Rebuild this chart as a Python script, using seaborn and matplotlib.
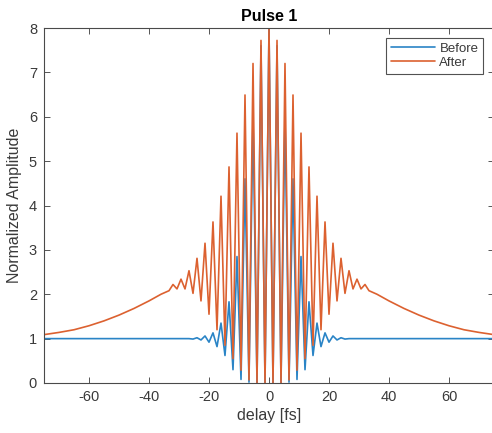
import numpy as np
import pandas as pd
import matplotlib
matplotlib.use("Agg")
import matplotlib.pyplot as plt
import seaborn as sns

# ---------------- data ----------------
# "After" trace: smooth pedestal wings
after_left_delay = [-75, -70, -65, -60, -55, -50, -45, -40, -36]
after_left_value = [1.09, 1.14, 1.20, 1.29, 1.40, 1.53, 1.68, 1.85, 2.00]
after_right_delay = [36, 40, 45, 50, 55, 60, 65, 70, 75]
after_right_value = [2.00, 1.85, 1.68, 1.53, 1.40, 1.29, 1.20, 1.14, 1.09]

# "After" trace: fringe extremes (alternating troughs / peaks)
after_fringe_delay = [-33.33, -32.00, -30.67, -29.33, -28.00, -26.67, -25.33, -24.00,
                      -22.67, -21.33, -20.00, -18.67, -17.33, -16.00, -14.67, -13.33,
                      -12.00, -10.67, -9.33, -8.00, -6.67, -5.33, -4.00, -2.67, -1.33,
                      0.00,
                      1.33, 2.67, 4.00, 5.33, 6.67, 8.00, 9.33, 10.67, 12.00,
                      13.33, 14.67, 16.00, 17.33, 18.67, 20.00, 21.33, 22.67,
                      24.00, 25.33, 26.67, 28.00, 29.33, 30.67, 32.00, 33.33]
after_fringe_value = [2.08, 2.22, 2.12, 2.34, 2.12, 2.53, 2.02, 2.81,
                      1.85, 3.15, 1.55, 3.63, 1.20, 4.21, 0.85, 4.87,
                      0.55, 5.63, 0.29, 6.49, 0.07, 7.20, 0.00, 7.72, 0.00,
                      8.00,
                      0.00, 7.72, 0.00, 7.20, 0.07, 6.49, 0.29, 5.63, 0.55,
                      4.87, 0.85, 4.21, 1.20, 3.63, 1.55, 3.15, 1.85,
                      2.81, 2.02, 2.53, 2.12, 2.34, 2.12, 2.22, 2.08]

# "Before" trace: flat background
before_left_delay = [-75, -26.67]
before_left_value = [1.0, 1.0]
before_right_delay = [26.67, 75]
before_right_value = [1.0, 1.0]

# "Before" trace: fringe extremes
before_fringe_delay = [-25.33, -24.00, -22.67, -21.33, -20.00, -18.67, -17.33, -16.00,
                       -14.67, -13.33, -12.00, -10.67, -9.33, -8.00, -6.67, -5.33,
                       -4.00, -2.67, -1.33,
                       0.00,
                       1.33, 2.67, 4.00, 5.33, 6.67, 8.00, 9.33, 10.67, 12.00,
                       13.33, 14.67, 16.00, 17.33, 18.67, 20.00, 21.33, 22.67,
                       24.00, 25.33]
before_fringe_value = [0.99, 1.02, 0.97, 1.06, 0.92, 1.13, 0.82, 1.35,
                       0.62, 1.83, 0.30, 2.85, 0.08, 4.60, 0.02, 6.00,
                       0.00, 7.60, 0.00,
                       8.00,
                       0.00, 7.60, 0.00, 6.00, 0.02, 4.60, 0.08, 2.85, 0.30,
                       1.83, 0.62, 1.35, 0.82, 1.13, 0.92, 1.06, 0.97,
                       1.02, 0.99]

x_ticks = [-60, -40, -20, 0, 20, 40, 60]
y_ticks = [0, 1, 2, 3, 4, 5, 6, 7, 8]
title = "Pulse 1"
x_label = "delay [fs]"
y_label = "Normalized Amplitude"

# ---------------- build tables ----------------
after_df = pd.DataFrame({
    "delay": after_left_delay + after_fringe_delay + after_right_delay,
    "amp": after_left_value + after_fringe_value + after_right_value,
})
before_df = pd.DataFrame({
    "delay": before_left_delay + before_fringe_delay + before_right_delay,
    "amp": before_left_value + before_fringe_value + before_right_value,
})

# ---------------- style ----------------
sns.set_style("ticks")
plt.rcParams["font.family"] = ["Liberation Sans", "DejaVu Sans"]
plt.rcParams["axes.unicode_minus"] = False

W, H = 492, 433
fig = plt.figure(figsize=(W / 100, H / 100), dpi=100)
ax = fig.add_axes([44 / W, 1 - 383 / H, 450 / W, 355 / H])

blue = "#2a84c6"
orange = "#dc6130"
sns.lineplot(data=before_df, x="delay", y="amp", ax=ax, color=blue, lw=1.2,
             label="Before", estimator=None, sort=False,
             solid_joinstyle="round", solid_capstyle="round")
sns.lineplot(data=after_df, x="delay", y="amp", ax=ax, color=orange, lw=1.2,
             label="After", estimator=None, sort=False,
             solid_joinstyle="round", solid_capstyle="round")

ax.set_xlim(-75, 75)
ax.set_ylim(0, 8)
ax.set_xticks(x_ticks)
ax.set_yticks(y_ticks)
tc = "#3a3a3a"
ax.tick_params(direction="in", length=4, width=0.6, colors=tc, labelsize=10.5,
               top=True, right=True, labelcolor=tc, pad=5)
for s in ax.spines.values():
    s.set_visible(True)
    s.set_linewidth(0.8)
    s.set_color("#4a4a4a")

ax.set_xlabel(x_label, fontsize=11.5, color=tc, labelpad=3)
ax.set_ylabel(y_label, fontsize=11.5, color=tc, labelpad=5)
ax.set_title(title, fontsize=11.5, fontweight="bold", color="black", pad=5)

leg = ax.legend(loc="upper right", bbox_to_anchor=(439 / 450, 1 - 10 / 355),
                fontsize=9.5, frameon=True, fancybox=False, borderpad=0.35,
                handlelength=3.4, handletextpad=0.3, labelspacing=0.15,
                borderaxespad=0)
leg.get_frame().set_edgecolor("#262626")
leg.get_frame().set_linewidth(0.8)
for t in leg.get_texts():
    t.set_color(tc)

fig.savefig("out.png", dpi=100)
